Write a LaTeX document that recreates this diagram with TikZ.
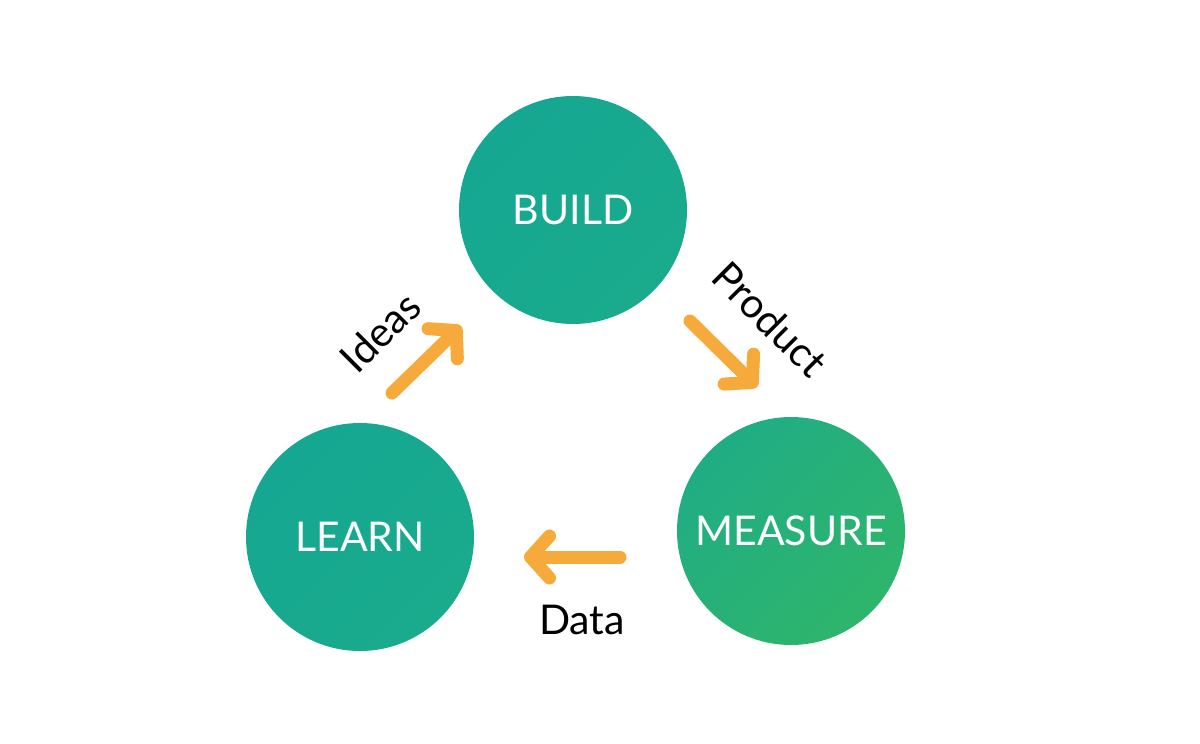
\documentclass[tikz,border=0pt]{standalone}
\usepackage{fontspec}
\setmainfont{Lato}
\usetikzlibrary{arrows.meta}
\definecolor{tealA}{HTML}{15A791}
\definecolor{tealB}{HTML}{1AAB8D}
\definecolor{greenA}{HTML}{20AD84}
\definecolor{greenB}{HTML}{2EB56B}
\definecolor{arrowc}{HTML}{F6AA3C}
\tikzset{
  stage/.style={circle, minimum size=228pt, inner sep=0pt, text=white,
    font=\fontsize{41}{48}\selectfont},
  flow/.style={draw=arrowc, line width=13pt, line cap=round, line join=round,
    -{Straight Barb[length=19pt,width=42pt,round]}},
  lbl/.style={font=\fontsize{41}{48}\selectfont, text=black, inner sep=0pt}
}
\begin{document}
\begin{tikzpicture}[x=1pt,y=-1pt]
\useasboundingbox[fill=white] (0,0) rectangle (1200,744);
\node[stage, left color=tealA, right color=tealB, shading angle=45] (build) at (573,210) {BUILD};
\node[stage, left color=tealA, right color=tealB, shading angle=45] (learn) at (360,537) {LEARN};
\node[stage, top color=greenA, bottom color=greenB, shading angle=45] (measure) at (791,531) {MEASURE};
\coordinate (i1) at (392,393);
\coordinate (i2) at (461,326);
\coordinate (p1) at (690,321);
\coordinate (p2) at (757,387);
\coordinate (d1) at (620,557);
\coordinate (d2) at (524,557);
\draw[flow] (i1) -- (i2);
\draw[flow] (p1) -- (p2);
\draw[flow] (d1) -- (d2);
\node[lbl, rotate=45] (ideas) at (380,332) {Ideas};
\node[lbl, rotate=-45] (product) at (770,319) {Product};
\node[lbl] (data) at (582,620) {Data};
\end{tikzpicture}
\end{document}
